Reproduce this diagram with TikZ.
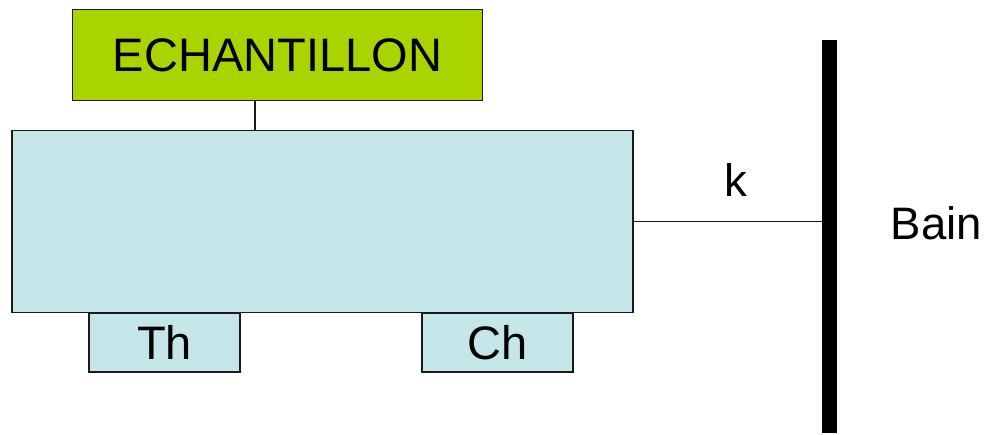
\documentclass[tikz,border=0pt]{standalone}
\usepackage{fontspec}
\setmainfont{Liberation Sans}
\definecolor{boxgreen}{HTML}{AAD400}
\definecolor{boxcyan}{HTML}{C5E6E8}
\definecolor{edge}{HTML}{1A1A1A}
\begin{document}
\begin{tikzpicture}[x=1pt,y=-1pt,
  box/.style={draw=edge,line width=1.4pt,inner sep=0pt,font=\fontsize{47}{50}\selectfont},
  lbl/.style={inner sep=0pt,font=\fontsize{45.5}{50}\selectfont},
  link/.style={draw=edge,line width=1.2pt}]
\useasboundingbox (0,0) rectangle (990,434);
\node[box,fill=boxgreen,minimum width=410pt,minimum height=91pt] (ech) at (277.5,55) {ECHANTILLON};
\node[box,fill=boxcyan,minimum width=621pt,minimum height=182pt] (big) at (322.5,221.5) {};
\node[box,fill=boxcyan,minimum width=151pt,minimum height=59pt] (th) at (164.5,342.5) {Th};
\node[box,fill=boxcyan,minimum width=151pt,minimum height=59pt] (ch) at (497.5,342.5) {Ch};
\node[fill=black,draw=none,inner sep=0pt,minimum width=15pt,minimum height=393pt] (bar) at (829.5,236.5) {};
\node[lbl] (k) at (736,180) {k};
\node[lbl] (bain) at (936.5,223) {Bain};
\coordinate (c1) at (255,0);
\draw[link] (ech.south -| c1) -- (big.north -| c1);
\draw[link] (big.east) -- (bar.west |- big.east);
\end{tikzpicture}
\end{document}
